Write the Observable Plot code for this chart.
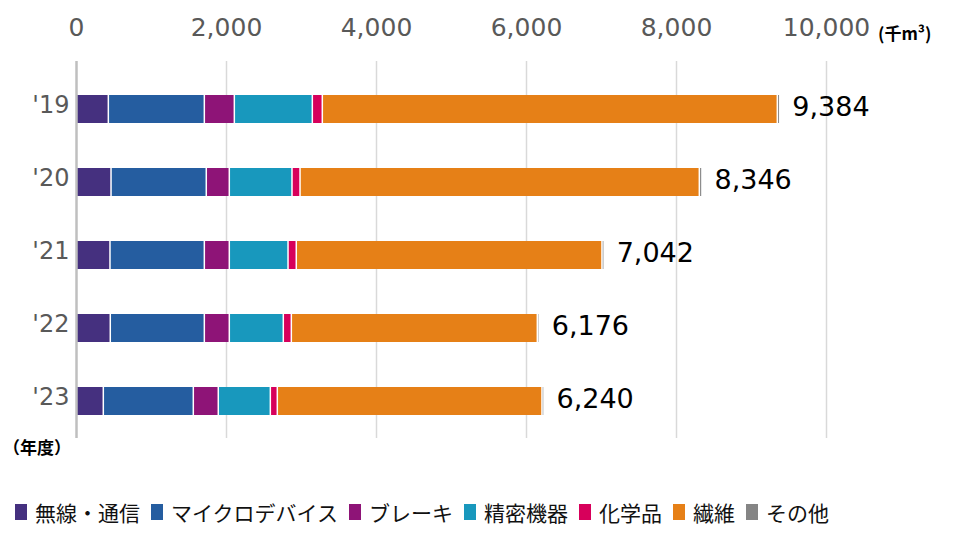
<!DOCTYPE html>
<html><head><meta charset="utf-8">
<script src="https://cdn.jsdelivr.net/npm/d3@7"></script>
<script src="https://cdn.jsdelivr.net/npm/@observablehq/plot@0.6"></script>
<style>
body{margin:0;background:#fff;font-family:"DejaVu Sans",sans-serif;width:960px;}
#legend{display:flex;align-items:center;height:44px;padding-left:15px;gap:11px;font-family:"Noto Sans CJK JP",sans-serif;font-size:21px;color:#111;}
#legend .item{display:flex;align-items:center;}
#legend .sw{display:inline-block;width:12px;height:16px;margin-right:8px;}
</style></head><body>
<div id="chart"></div>
<div id="legend"></div>
<script>
const years = ["'19","'20","'21","'22","'23"];
const categories = ["無線・通信","マイクロデバイス","ブレーキ","精密機器","化学品","繊維","その他"];
const colors = ["#45307f","#255da0","#8e1477","#1898bd","#d7005b","#e68017","#858585"];
const wireless    = [431, 467, 453, 457, 364];
const microdevice = [1280, 1270, 1258, 1254, 1200];
const brake       = [400, 307, 333, 333, 333];
const precision   = [1040, 836, 783, 720, 694];
const chemical    = [133, 107, 110, 107, 93];
const textile     = [6067, 5324, 4076, 3280, 3529];
const other       = [33, 35, 29, 25, 27];
const totals      = [9384, 8346, 7042, 6176, 6240];
const xTicks      = [0, 2000, 4000, 6000, 8000, 10000];

const series = [wireless, microdevice, brake, precision, chemical, textile, other];
const rows = [];
years.forEach((y, i) => categories.forEach((c, j) => rows.push({year: y, category: c, value: series[j][i]})));
const totalRows = years.map((y, i) => ({year: y, total: totals[i]}));

const chart = Plot.plot({
  width: 960,
  height: 490,
  marginTop: 71,
  marginBottom: 52,
  marginLeft: 76,
  marginRight: 134,
  style: {background: "#fff", fontFamily: "DejaVu Sans, sans-serif"},
  x: {domain: [0, 10000], axis: null},
  y: {domain: years, paddingInner: 0.62, paddingOuter: 0.31, axis: null},
  color: {domain: categories, range: colors},
  marks: [
    Plot.ruleX(xTicks.slice(1), {x: d => d, stroke: "#d9d9d9", strokeWidth: 1.5, insetTop: -10}),
    Plot.barX(rows, {x: "value", y: "year", fill: "category", order: categories, insetLeft: 0.75, insetRight: 0.75}),
    Plot.ruleX([0], {x: d => d, stroke: "#bfbfbf", strokeWidth: 2.5, insetTop: -10}),
    Plot.axisX(xTicks, {anchor: "top", tickSize: 0, tickPadding: 36, tickFormat: d3.format(","), fontSize: 25, color: "#595959", label: null}),
    Plot.axisY({anchor: "left", tickSize: 0, tickPadding: 7, fontSize: 24, color: "#595959", dy: -4, label: null}),
    Plot.text(totalRows, {x: "total", y: "year", text: d => d3.format(",")(d.total), dx: 12, dy: -2, textAnchor: "start", fontSize: 27, fill: "#000"})
  ]
});
document.getElementById("chart").appendChild(chart);

const svg = d3.select(chart);
svg.append("text").attr("x", 878).attr("y", 40).attr("text-anchor", "start").attr("font-size", 17).attr("font-weight", "bold")
  .attr("font-family", "Noto Sans CJK JP, sans-serif").attr("fill", "#000").text("(千m³)");
svg.append("text").attr("x", 3).attr("y", 454).attr("text-anchor", "start").attr("font-size", 17).attr("font-weight", "bold")
  .attr("font-family", "Noto Sans CJK JP, sans-serif").attr("fill", "#000").text("（年度）");

const legend = d3.select("#legend");
categories.forEach((c, j) => {
  const it = legend.append("div").attr("class", "item");
  it.append("span").attr("class", "sw").style("background", colors[j]);
  it.append("span").text(c);
});
</script>
</body></html>
